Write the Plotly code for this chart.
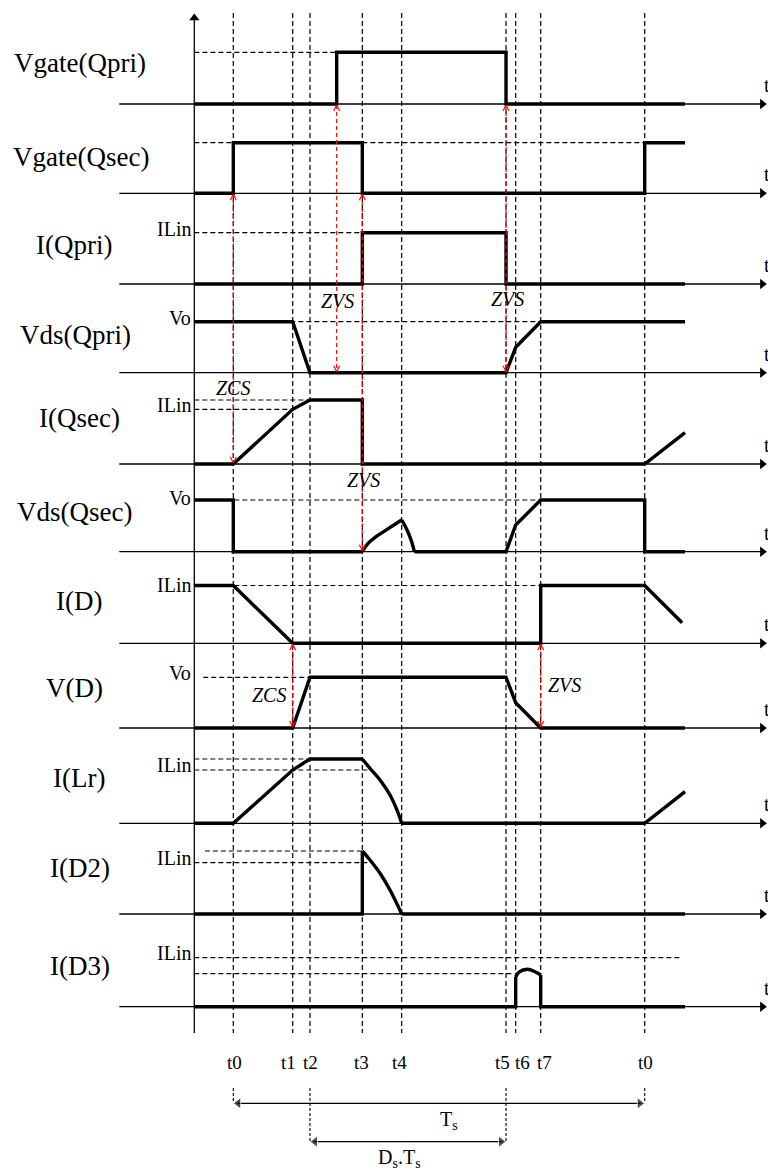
import plotly.graph_objects as go

# ---------------- time instants (one switching period Ts = 10 units) ----------------
T_AXIS = -0.948          # vertical axis / start of every trace
T0, T1, T2, TQ, T3, T4, T4B, T5, T6, T7, T0N = 0.0, 1.444, 1.864, 2.513, 3.136, 4.093, 4.40, 6.629, 6.864, 7.472, 10.0
T_END = 10.98
T_AX_L, T_AX_R = -2.771, 12.97   # extent of the thin time axes

mark_times = [T0, T1, T2, T3, T4, T5, T6, T7, T0N]
mark_labels = ["t0", "t1", "t2", "t3", "t4", "t5", "t6", "t7", "t0"]
mark_nudge = [1, -4, 1, -1, -2, -4, 7, 4, 1]

row_names = ["Vgate(Qpri)", "Vgate(Qsec)", "I(Qpri)", "Vds(Qpri)", "I(Qsec)", "Vds(Qsec)",
             "I(D)", "V(D)", "I(Lr)", "I(D2)", "I(D3)"]
row_name_x = [80, 81, 74, 75, 79, 74, 79, 74, 79, 80, 80]
row_name_dy = [-41, -36, -39, -38, -46, -40, -42, -40, -45, -46, -41]
level_text = [None, None, "ILin", "Vo", "ILin", "Vo", "ILin", "Vo", "ILin", "ILin", "ILin"]
level_text_dy = [0, 0, -55, -55, -59, -54, -58, -55, -58, -56, -54]

# ---------------- waveforms (amplitudes) ----------------
vg_pri_t = [T_AXIS, TQ, TQ, T5, T5, T_END]
vg_pri_v = [0, 0, 51.7, 51.7, 0, 0]

vg_sec_t = [T_AXIS, T0, T0, T3, T3, T0N, T0N, T_END]
vg_sec_v = [0, 0, 50.6, 50.6, 0, 0, 50.6, 50.6]

i_pri_t = [T_AXIS, T3, T3, T5, T5, T_END]
i_pri_v = [0, 0, 51.3, 51.3, 0, 0]

vds_pri_t = [T_AXIS, T1, T2, T5, T6, T7, T_END]
vds_pri_v = [51, 51, 0, 0, 25.4, 51, 51]

i_sec_t = [T_AXIS, T0, T1, T2, T3, T3, T0N, T_END]
i_sec_v = [0, 0, 54.7, 64, 64, 0, 0, 31.3]

vds_sec_a_t = [T_AXIS, T0, T0, T3]
vds_sec_a_v = [51.7, 51.7, 0, 0]
vds_sec_rise_t = [3.136, 3.282, 3.486, 3.729, 3.931, 4.093]
vds_sec_rise_v = [0, 8.5, 15.5, 22, 27.5, 31.7]
vds_sec_fall_t = [4.093, 4.215, 4.336, 4.40]
vds_sec_fall_v = [31.7, 22.5, 10, 0]
vds_sec_b_t = [T4B, T5, T6, T7, T0N, T0N, T_END]
vds_sec_b_v = [0, 0, 26.7, 51.7, 51.7, 0, 0]

i_d_t = [T_AXIS, T0, T1, T7, T7, T0N, 10.91]
i_d_v = [57.8, 57.8, 0, 0, 57.8, 57.8, 20.6]

v_d_t = [T_AXIS, T1, T2, T5, T6, T7, T_END]
v_d_v = [0, 0, 50.7, 50.7, 25.3, 0, 0]

i_lr_a_t = [T_AXIS, T0, T1, T2, T3]
i_lr_a_v = [0, 0, 53.3, 64.3, 64.3]
i_lr_fall_t = [3.136, 3.323, 3.566, 3.809, 4.011, 4.093]
i_lr_fall_v = [64.3, 55, 43.3, 28.3, 10, 0]
i_lr_b_t = [T4, T0N, T_END]
i_lr_b_v = [0, 0, 31.6]

i_d2_a_t = [T_AXIS, T3, T3]
i_d2_a_v = [0, 0, 63]
i_d2_fall_t = [3.136, 3.323, 3.566, 3.809, 4.011, 4.093]
i_d2_fall_v = [63, 54, 40.7, 24, 7.3, 0]
i_d2_b_t = [T4, T_END]
i_d2_b_v = [0, 0]

i_d3_a_t = [T_AXIS, T6, T6]
i_d3_a_v = [0, 0, 30]
i_d3_arc_t = [6.864, 6.945, 7.146, 7.333, 7.472]
i_d3_arc_v = [30, 34.5, 37.4, 35, 31.7]
i_d3_b_t = [T7, T7, T_END]
i_d3_b_v = [31.7, 0, 0]

# (row, amplitude, t_from, t_to) dashed reference levels
ref_levels = [
    (0, 51.7, T_AXIS, TQ), (1, 50.6, T_AXIS, T0N), (2, 51.3, T_AXIS, T3),
    (3, 51, T_AXIS, T7), (4, 64, T_AXIS, T2), (4, 54.7, T_AXIS, T1),
    (5, 51.7, T_AXIS, T7), (6, 57.8, T_AXIS, T7), (7, 50.7, -0.73, T2),
    (8, 64.3, T_AXIS, T2), (8, 53.3, T_AXIS, 3.32), (9, 63, -0.69, T3),
    (9, 51.3, T_AXIS, 3.39), (10, 49, T_AXIS, 10.87), (10, 33, T_AXIS, 6.82),
]

# red dashed ZVS/ZCS markers: (time, row_top, row_bottom, label, label_dx_px, label_y_px)
soft_sw = [
    (T0, 1, 4, "ZCS", 0, 388),
    (TQ, 0, 3, "ZVS", 1, 301),
    (T3, 1, 5, "ZVS", 1, 480),
    (T5, 0, 3, "ZVS", 1, 299),
    (T1, 6, 7, "ZCS", -24, 695),
    (T7, 6, 7, "ZVS", 24, 685),
]

# ---------------- layout constants ----------------
W, H = 768, 1170
X_PX0 = 233.3          # pixel of t0
PX_PER_T = 41.14       # pixels per time unit
BASES = [104, 193.3, 284, 372.7, 464, 551.7, 643.3, 728, 823.3, 914, 1006.7]
Y_TOP, Y_BOT = 13, 1033
SERIF = "Liberation Serif, Times New Roman, serif"
DT = 1.0 / PX_PER_T    # one pixel in time units

fig = go.Figure()


def poly(ts, ys, color="black", width=3.4, dash=None, shape="linear"):
    fig.add_trace(go.Scatter(x=ts, y=ys, mode="lines",
                             line=dict(color=color, width=width, dash=dash, shape=shape),
                             hoverinfo="skip", showlegend=False))


def wave(row, ts, vs, shape="linear"):
    poly(ts, [BASES[row] - v for v in vs], shape=shape)


# thin time axes with arrowheads
ax_x, ax_y = [], []
for b in BASES:
    ax_x += [T_AX_L, T_AX_R - 3 * DT, None]
    ax_y += [b, b, None]
poly(ax_x, ax_y, width=1.3)
fig.add_trace(go.Scatter(x=[T_AX_R - 4.5 * DT] * len(BASES), y=BASES, mode="markers",
                         marker=dict(symbol="triangle-right", size=9, color="black"),
                         hoverinfo="skip", showlegend=False))
# vertical axis
poly([T_AXIS, T_AXIS], [Y_BOT, Y_TOP + 4], width=1.3)
fig.add_trace(go.Scatter(x=[T_AXIS], y=[Y_TOP + 5], mode="markers",
                         marker=dict(symbol="triangle-up", size=9, color="black"),
                         hoverinfo="skip", showlegend=False))

# dashed vertical time marks
vx, vy = [], []
for t in mark_times:
    vx += [t, t, None]
    vy += [Y_TOP, Y_BOT, None]
poly(vx, vy, width=1.2, dash="5px,3px")

# dashed horizontal reference levels
hx, hy = [], []
for row, amp, ta, tb in ref_levels:
    hx += [ta, tb, None]
    hy += [BASES[row] - amp, BASES[row] - amp, None]
poly(hx, hy, width=1.2, dash="5px,3px")

# waveforms
wave(0, vg_pri_t, vg_pri_v)
wave(1, vg_sec_t, vg_sec_v)
wave(2, i_pri_t, i_pri_v)
wave(3, vds_pri_t, vds_pri_v)
wave(4, i_sec_t, i_sec_v)
wave(5, vds_sec_a_t, vds_sec_a_v)
wave(5, vds_sec_rise_t, vds_sec_rise_v, "spline")
wave(5, vds_sec_fall_t, vds_sec_fall_v, "spline")
wave(5, vds_sec_b_t, vds_sec_b_v)
wave(6, i_d_t, i_d_v)
wave(7, v_d_t, v_d_v)
wave(8, i_lr_a_t, i_lr_a_v)
wave(8, i_lr_fall_t, i_lr_fall_v, "spline")
wave(8, i_lr_b_t, i_lr_b_v)
wave(9, i_d2_a_t, i_d2_a_v)
wave(9, i_d2_fall_t, i_d2_fall_v, "spline")
wave(9, i_d2_b_t, i_d2_b_v)
wave(10, i_d3_a_t, i_d3_a_v)
wave(10, i_d3_arc_t, i_d3_arc_v, "spline")
wave(10, i_d3_b_t, i_d3_b_v)

# red dashed soft-switching arrows
ann = []
for t, r1, r2, lab, ldx, ly in soft_sw:
    y1, y2 = BASES[r1] + 1, BASES[r2] - 1
    poly([t, t], [y1, y2], color="red", width=1.2, dash="4px,3px")
    poly([t - 3 * DT, t, t + 3 * DT], [y1 + 6, y1, y1 + 6], color="red", width=1.1)
    poly([t - 3 * DT, t, t + 3 * DT], [y2 - 6, y2, y2 - 6], color="red", width=1.1)
    ann.append(dict(x=t, y=ly, xref="x", yref="y", text="<i>" + lab + "</i>", showarrow=False, xshift=ldx,
                    font=dict(family=SERIF, size=20, color="black"), xanchor="center", yanchor="middle"))

# period arrows
for ta, tb, yy in [(T0, T0N, 1103.3), (T2, T5, 1141.7)]:
    poly([ta, ta, None, tb, tb], [1088, yy, None, 1088, yy], width=1.1, dash="3px,2px")
    poly([ta + 4 * DT, tb - 4 * DT], [yy, yy], width=1.3)
    fig.add_trace(go.Scatter(x=[ta + 5 * DT, tb - 5 * DT], y=[yy, yy], mode="markers",
                             marker=dict(symbol=["triangle-left", "triangle-right"], size=[10, 10],
                                         color="black"),
                             hoverinfo="skip", showlegend=False))
ann.append(dict(x=(T0 + T0N) / 2 + 0.25, y=1120, xref="x", yref="y", text="T<sub>s</sub>", showarrow=False,
                font=dict(family=SERIF, size=20, color="black")))
ann.append(dict(x=(T2 + T5) / 2 - 0.2, y=1158, xref="x", yref="y", text="D<sub>s</sub>.T<sub>s</sub>",
                showarrow=False, font=dict(family=SERIF, size=20, color="black")))

# row names, level labels, 't' axis tags
for i, name in enumerate(row_names):
    ann.append(dict(x=row_name_x[i] / W, xref="paper", y=BASES[i] + row_name_dy[i], yref="y", text=name,
                    showarrow=False, xanchor="center", yanchor="middle",
                    font=dict(family=SERIF, size=27, color="black")))
    if level_text[i]:
        ann.append(dict(x=T_AXIS, y=BASES[i] + level_text_dy[i], xref="x", yref="y", text=level_text[i],
                        showarrow=False, xanchor="right", yanchor="middle", xshift=-1,
                        font=dict(family=SERIF, size=20, color="black")))
    ann.append(dict(x=762 / W, xref="paper", y=BASES[i] - 19, yref="y", text="t", showarrow=False,
                    xanchor="left", yanchor="middle", font=dict(family=SERIF, size=20, color="black")))

# time-instant labels
for t, lab, nd in zip(mark_times, mark_labels, mark_nudge):
    ann.append(dict(x=t, y=1062, xref="x", yref="y", text=lab, showarrow=False, xshift=nd,
                    font=dict(family=SERIF, size=19, color="black")))

fig.update_layout(
    width=W, height=H, margin=dict(l=0, r=0, t=0, b=0),
    paper_bgcolor="white", plot_bgcolor="white", showlegend=False,
    annotations=ann,
    xaxis=dict(range=[-X_PX0 / PX_PER_T, (W - X_PX0) / PX_PER_T], visible=False, fixedrange=True),
    yaxis=dict(range=[H, 0], visible=False, fixedrange=True),
)
fig.write_html("out.html", config={"displayModeBar": False},
               post_script="document.body.style.margin='0px';document.body.style.overflow='hidden';")
